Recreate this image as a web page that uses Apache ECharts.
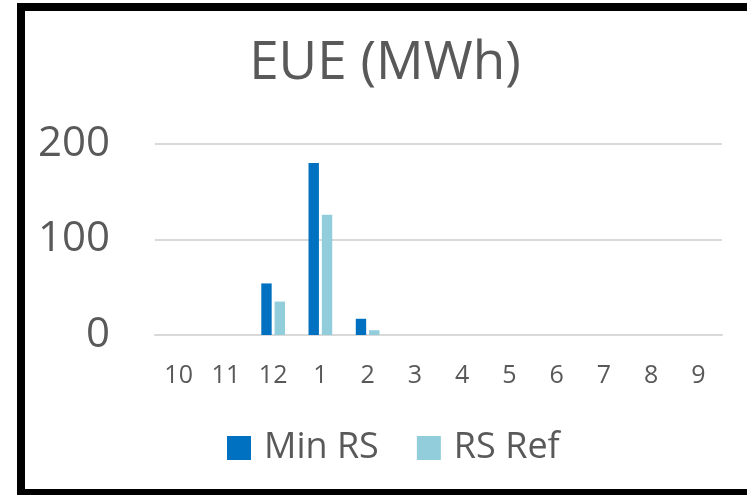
<!DOCTYPE html>
<html>
<head>
<meta charset="utf-8">
<script src="https://cdn.jsdelivr.net/npm/echarts@6/dist/echarts.min.js"></script>
<style>
  html, body { margin: 0; padding: 0; background: #fff; }
  #chart { width: 747px; height: 495px; }
</style>
</head>
<body>
<div id="chart"></div>
<script>
// Monthly expected unserved energy, October through September
const months = ['10', '11', '12', '1', '2', '3', '4', '5', '6', '7', '8', '9'];
const minRS = [0, 0, 54, 180, 17, 0, 0, 0, 0, 0, 0, 0];
const rsRef = [0, 0, 35, 126, 5, 0, 0, 0, 0, 0, 0, 0];
const yTicks = [0, 100, 200];

const FONT = 'Open Sans';
const TEXT = '#595959';
const GRID = '#D9D9D9';

const chart = echarts.init(document.getElementById('chart'), null, { renderer: 'canvas' });

chart.setOption({
  animation: false,
  backgroundColor: '#fff',
  title: {
    text: 'EUE (MWh)',
    left: 385,
    top: 37,
    padding: 0,
    textAlign: 'center',
    textStyle: { fontFamily: FONT, fontSize: 53, fontWeight: 'normal', color: TEXT }
  },
  legend: {
    data: ['Min RS', 'RS Ref'],
    left: 227,
    top: 430,
    padding: 0,
    icon: 'rect',
    itemWidth: 24,
    itemHeight: 24,
    itemGap: 38,
    textStyle: { fontFamily: FONT, fontSize: 36, color: TEXT, padding: [0, 0, 0, 8] }
  },
  grid: { left: 155, right: 25, top: 144, bottom: 160, containLabel: false },
  xAxis: {
    type: 'category',
    data: months,
    axisLine: { show: true, lineStyle: { color: GRID, width: 2 } },
    axisTick: { show: false },
    axisLabel: { fontFamily: FONT, fontSize: 25, color: TEXT, margin: 28 }
  },
  yAxis: {
    type: 'value',
    min: yTicks[0],
    max: yTicks[yTicks.length - 1],
    interval: yTicks[1] - yTicks[0],
    axisLine: { show: false },
    axisTick: { show: false },
    splitLine: { lineStyle: { color: GRID, width: 2 } },
    axisLabel: { fontFamily: FONT, fontSize: 42, color: TEXT, margin: 45 }
  },
  series: [
    {
      name: 'Min RS',
      type: 'bar',
      data: minRS,
      barWidth: '22%',
      barGap: '28%',
      itemStyle: { color: '#0070C0' }
    },
    {
      name: 'RS Ref',
      type: 'bar',
      data: rsRef,
      barWidth: '22%',
      itemStyle: { color: '#92CDDC' }
    }
  ],
  graphic: [
    {
      type: 'rect',
      silent: true,
      shape: { x: 21, y: 7, width: 800, height: 486 },
      style: { fill: 'none', stroke: '#000', lineWidth: 8 },
      z: 100
    }
  ]
});
</script>
</body>
</html>
